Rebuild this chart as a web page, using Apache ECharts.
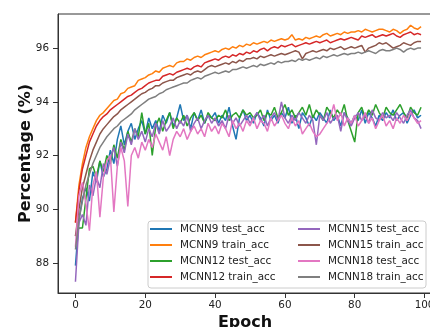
<!DOCTYPE html>
<html>
<head>
<meta charset="utf-8">
<script src="https://cdn.jsdelivr.net/npm/echarts@6/dist/echarts.min.js"></script>
<style>
html,body{margin:0;padding:0;background:#fff;}
#c{width:430px;height:327px;}
</style>
</head>
<body>
<div id="c"></div>
<script>
const xTicks = [0, 20, 40, 60, 80, 100];
const yTicks = [88, 90, 92, 94, 96];
const seriesNames = ['MCNN9 test_acc', 'MCNN9 train_acc', 'MCNN12 test_acc', 'MCNN12 train_acc',
  'MCNN15 test_acc', 'MCNN15 train_acc', 'MCNN18 test_acc', 'MCNN18 train_acc'];

const mcnn9Test = [87.9, 89.6, 90.4, 90.8, 90.3, 91.4, 91.0, 91.8, 91.2, 91.5,
  92.2, 91.7, 92.6, 93.1, 92.4, 92.9, 93.2, 92.6, 93.0, 93.3,
  92.8, 93.4, 93.0, 93.3, 92.9, 93.5, 93.2, 93.6, 93.1, 93.4,
  93.9, 93.3, 93.5, 93.0, 93.6, 93.3, 93.7, 93.2, 93.5, 93.4,
  93.6, 93.2, 93.5, 93.3, 93.8, 93.1, 92.6, 93.4, 93.7, 93.3,
  93.5, 93.2, 93.6, 93.4, 93.1, 93.7, 93.3, 93.5, 93.2, 93.6,
  93.4, 93.8, 93.2, 93.5, 93.0, 93.6, 93.4, 93.1, 93.5, 93.3,
  93.6, 93.4, 93.2, 93.7, 93.3, 93.5, 93.1, 93.6, 93.4, 93.2,
  93.5, 93.3, 93.7, 93.2, 93.6, 93.4, 93.1, 93.5, 93.3, 93.6,
  93.4, 93.7, 93.3, 93.5, 93.6, 93.2, 93.5, 93.7, 93.4, 93.5];
const mcnn9Train = [89.5, 90.9, 91.7, 92.3, 92.7, 93.0, 93.3, 93.5, 93.6, 93.75,
  93.9, 94.05, 94.1, 94.3, 94.35, 94.5, 94.55, 94.6, 94.8, 94.85,
  94.9, 95.0, 95.05, 95.15, 95.1, 95.25, 95.3, 95.35, 95.3, 95.45,
  95.5, 95.5, 95.6, 95.55, 95.65, 95.7, 95.65, 95.75, 95.8, 95.85,
  95.9, 95.85, 95.95, 96.0, 95.95, 96.05, 96.0, 96.1, 96.05, 96.15,
  96.1, 96.2, 96.15, 96.2, 96.25, 96.2, 96.3, 96.25, 96.3, 96.35,
  96.3, 96.35, 96.5, 96.3, 96.35, 96.3, 96.4, 96.35, 96.4, 96.45,
  96.4, 96.5, 96.55, 96.45, 96.5, 96.55, 96.5, 96.6, 96.55, 96.6,
  96.6, 96.65, 96.6, 96.7, 96.65, 96.6, 96.65, 96.7, 96.7, 96.65,
  96.6, 96.7, 96.65, 96.55, 96.65, 96.7, 96.85, 96.75, 96.7, 96.8];
const mcnn12Test = [89.0, 89.3, 89.3, 90.4, 91.5, 91.6, 91.2, 91.8, 91.4, 92.0,
  91.7, 92.4, 91.9, 92.6, 92.2, 92.9, 92.5, 93.0, 92.7, 93.6,
  92.8, 93.2, 92.0, 93.1, 93.4, 92.9, 93.3, 93.6, 93.0, 93.4,
  93.2, 93.5, 93.1, 93.4, 93.6, 93.3, 93.5, 93.2, 93.6, 93.4,
  93.3, 93.5, 93.4, 93.7, 93.3, 93.5, 93.6, 93.4, 93.7, 93.5,
  93.6, 93.4, 93.5, 93.7, 93.3, 93.6, 93.5, 93.8, 93.4, 93.6,
  93.9, 93.5, 93.7, 93.4, 93.6, 93.8, 93.5, 93.9, 93.4, 93.7,
  93.5, 93.3, 93.8, 93.6, 93.4, 93.7, 93.5, 93.9, 93.3, 92.9,
  92.5, 93.6, 93.8, 93.4, 93.7, 93.5, 93.9, 93.6, 93.4, 93.8,
  93.6, 93.5, 93.7, 93.9, 93.6, 93.4, 93.8, 93.6, 93.5, 93.8];
const mcnn12Train = [89.5, 90.7, 91.5, 92.0, 92.5, 92.8, 93.1, 93.3, 93.45, 93.55,
  93.7, 93.8, 93.9, 94.0, 94.1, 94.2, 94.25, 94.35, 94.45, 94.5,
  94.6, 94.7, 94.75, 94.8, 94.8, 94.95, 95.0, 95.05, 95.0, 95.1,
  95.15, 95.2, 95.25, 95.2, 95.3, 95.35, 95.3, 95.45, 95.5, 95.55,
  95.6, 95.55, 95.65, 95.7, 95.65, 95.75, 95.7, 95.8, 95.75, 95.85,
  95.8, 95.9, 95.85, 95.95, 96.0, 95.9, 96.0, 96.05, 96.0, 96.1,
  96.05, 96.1, 96.15, 96.05, 96.1, 96.15, 96.2, 96.15, 96.2, 96.25,
  96.2, 96.25, 96.3, 96.2, 96.25, 96.3, 96.35, 96.3, 96.35, 96.4,
  96.35, 96.3, 96.45, 96.4, 96.45, 96.5, 96.4, 96.45, 96.5, 96.45,
  96.5, 96.55, 96.45, 96.4, 96.5, 96.55, 96.6, 96.5, 96.55, 96.5];
const mcnn15Test = [87.3, 89.5, 89.8, 89.4, 90.9, 90.5, 91.2, 90.8, 91.7, 91.3,
  91.9, 92.3, 91.6, 92.5, 92.1, 92.8, 92.4, 93.0, 92.6, 92.9,
  92.5, 93.0, 92.7, 93.2, 92.8, 93.3, 92.9, 93.1, 93.4, 93.0,
  93.3, 93.1, 93.5, 92.9, 93.2, 93.4, 93.0, 93.3, 93.5, 93.2,
  93.4, 93.1, 93.3, 93.0, 93.5, 93.2, 93.4, 93.1, 93.3, 93.5,
  93.2, 93.4, 93.6, 93.3, 93.5, 93.1, 93.4, 93.6, 93.3, 94.0,
  93.4, 93.2, 93.5, 93.3, 93.6, 93.4, 93.2, 93.5, 93.3, 92.4,
  93.5, 93.3, 93.6, 93.2, 93.4, 93.5, 92.9, 93.6, 93.3, 93.1,
  93.4, 93.6, 93.3, 93.5, 93.2, 93.7, 93.4, 93.3, 93.6, 93.4,
  93.5, 93.3, 93.6, 93.4, 93.2, 93.5, 93.7, 93.4, 93.3, 93.0];
const mcnn15Train = [89.0, 90.0, 90.8, 91.3, 91.8, 92.2, 92.5, 92.8, 93.0, 93.15,
  93.3, 93.45, 93.55, 93.7, 93.8, 93.9, 94.0, 94.1, 94.2, 94.3,
  94.35, 94.45, 94.5, 94.6, 94.6, 94.7, 94.75, 94.8, 94.8, 94.9,
  94.95, 95.0, 95.05, 95.0, 95.1, 95.15, 95.1, 95.2, 95.3, 95.35,
  95.3, 95.35, 95.4, 95.45, 95.4, 95.5, 95.45, 95.55, 95.5, 95.6,
  95.6, 95.65, 95.6, 95.7, 95.65, 95.7, 95.75, 95.7, 95.75, 95.8,
  95.75, 95.8, 95.85, 95.9, 95.85, 95.6, 95.8, 95.85, 95.9, 95.85,
  95.9, 95.95, 95.9, 96.0, 95.95, 96.0, 96.05, 95.95, 96.0, 96.05,
  96.0, 96.05, 96.1, 95.85, 96.0, 96.05, 96.1, 96.2, 96.15, 96.2,
  96.1, 96.0, 96.05, 96.1, 96.2, 96.15, 96.1, 96.2, 96.25, 96.25];
const mcnn18Test = [88.6, 90.5, 91.0, 90.2, 89.2, 90.9, 91.4, 89.7, 91.2, 91.8,
  92.0, 89.9, 91.6, 92.3, 91.8, 90.1, 92.0, 92.3, 91.9, 92.5,
  92.2, 92.6, 92.3, 92.8, 92.5, 92.2, 92.7, 92.0, 92.6, 92.9,
  92.7, 93.0, 92.6, 92.9, 93.1, 92.8, 93.0, 92.7, 93.2, 92.9,
  93.1, 92.8, 93.2, 93.0, 92.7, 93.3, 93.0, 93.2, 92.9, 93.3,
  93.1, 93.4, 93.0, 93.3, 93.2, 92.9, 93.4, 93.1, 93.3, 93.5,
  93.2, 93.0, 93.4, 93.1, 93.3, 92.8, 93.0, 93.2, 92.9, 92.7,
  92.8, 93.0, 93.2, 93.4, 93.9, 93.3, 93.6, 93.1, 93.4, 93.2,
  93.5, 93.1, 93.3, 93.6, 93.2, 93.4, 93.0, 93.3, 93.5, 93.1,
  93.3, 93.0, 93.4, 93.2, 93.5, 93.3, 93.6, 93.4, 93.2, 93.3];
const mcnn18Train = [88.5, 89.6, 90.3, 90.9, 91.3, 91.7, 92.0, 92.3, 92.5, 92.7,
  92.85, 93.0, 93.1, 93.25, 93.35, 93.45, 93.55, 93.7, 93.8, 93.9,
  94.0, 94.1, 94.15, 94.2, 94.3, 94.35, 94.45, 94.5, 94.55, 94.6,
  94.65, 94.7, 94.7, 94.8, 94.85, 94.9, 94.85, 94.95, 95.0, 95.05,
  95.1, 95.05, 95.1, 95.15, 95.1, 95.2, 95.2, 95.25, 95.3, 95.25,
  95.3, 95.35, 95.3, 95.4, 95.35, 95.4, 95.45, 95.4, 95.5, 95.45,
  95.5, 95.5, 95.55, 95.5, 95.6, 95.55, 95.6, 95.55, 95.6, 95.65,
  95.6, 95.7, 95.65, 95.7, 95.75, 95.7, 95.75, 95.8, 95.75, 95.8,
  95.8, 95.85, 95.8, 95.85, 95.9, 95.85, 95.8, 95.9, 95.95, 95.9,
  95.9, 95.95, 96.0, 95.95, 95.85, 95.95, 96.0, 95.95, 96.0, 96.0];

const allValues = [mcnn9Test, mcnn9Train, mcnn12Test, mcnn12Train, mcnn15Test, mcnn15Train, mcnn18Test, mcnn18Train];
const colors = ['#1f77b4', '#ff7f0e', '#2ca02c', '#d62728', '#9467bd', '#8c564b', '#e377c2', '#7f7f7f'];

const chart = echarts.init(document.getElementById('c'), null, {renderer: 'canvas'});
const FONT = 'DejaVu Sans';
const series = allValues.map((vals, i) => ({
  name: seriesNames[i],
  type: 'line',
  data: vals.map((v, e) => [e, v]),
  showSymbol: false,
  symbol: 'none',
  lineStyle: {color: colors[i], width: 1.5},
  itemStyle: {color: colors[i]},
  animation: false
}));

const legendCommon = {
  orient: 'vertical',
  top: 221,
  padding: 0,
  itemWidth: 22,
  itemHeight: 2,
  itemGap: 0,
  icon: 'rect',
  z: 10,
  textStyle: {fontFamily: FONT, fontSize: 10.4, color: '#222', lineHeight: 16, padding: [0, 0, 0, 3]}
};

chart.setOption({
  animation: false,
  color: colors,
  grid: {left: 58, top: 14, right: -12, bottom: 34, outerBoundsMode: 'none', containLabel: false,
    show: true, borderColor: '#333', borderWidth: 1, backgroundColor: 'transparent'},
  xAxis: {
    type: 'value', min: -5, max: 105,
    name: 'Epoch', nameLocation: 'middle', nameGap: 22, nameMoveOverlap: false,
    nameTextStyle: {fontFamily: FONT, fontSize: 16, fontWeight: 'bold', color: '#111', padding: [0, 10, 0, 0]},
    axisLine: {show: true, onZero: false, lineStyle: {color: '#333', width: 1}},
    axisTick: {show: true, length: 5, customValues: xTicks, lineStyle: {color: '#333'}},
    axisLabel: {customValues: xTicks, margin: 7, fontFamily: FONT, fontSize: 10.4, color: '#222'},
    splitLine: {show: false}
  },
  yAxis: {
    type: 'value', min: 86.88, max: 97.27,
    name: 'Percentage (%)', nameLocation: 'middle', nameGap: 24, nameMoveOverlap: false,
    nameTextStyle: {fontFamily: FONT, fontSize: 16, fontWeight: 'bold', color: '#111'},
    axisLine: {show: true, onZero: false, lineStyle: {color: '#333', width: 1}},
    axisTick: {show: true, length: 5, customValues: yTicks, lineStyle: {color: '#333'}},
    axisLabel: {customValues: yTicks, margin: 9, fontFamily: FONT, fontSize: 10.4, color: '#222'},
    splitLine: {show: false}
  },
  legend: [
    Object.assign({left: 150, data: seriesNames.slice(0, 4)}, legendCommon),
    Object.assign({left: 298, data: seriesNames.slice(4, 8)}, legendCommon)
  ],
  graphic: [{
    type: 'rect', z: 9,
    shape: {x: 148, y: 221, width: 278, height: 67, r: 3},
    style: {fill: 'rgba(255,255,255,0.8)', stroke: '#cccccc', lineWidth: 1}
  }],
  series: series
});
</script>
</body>
</html>
